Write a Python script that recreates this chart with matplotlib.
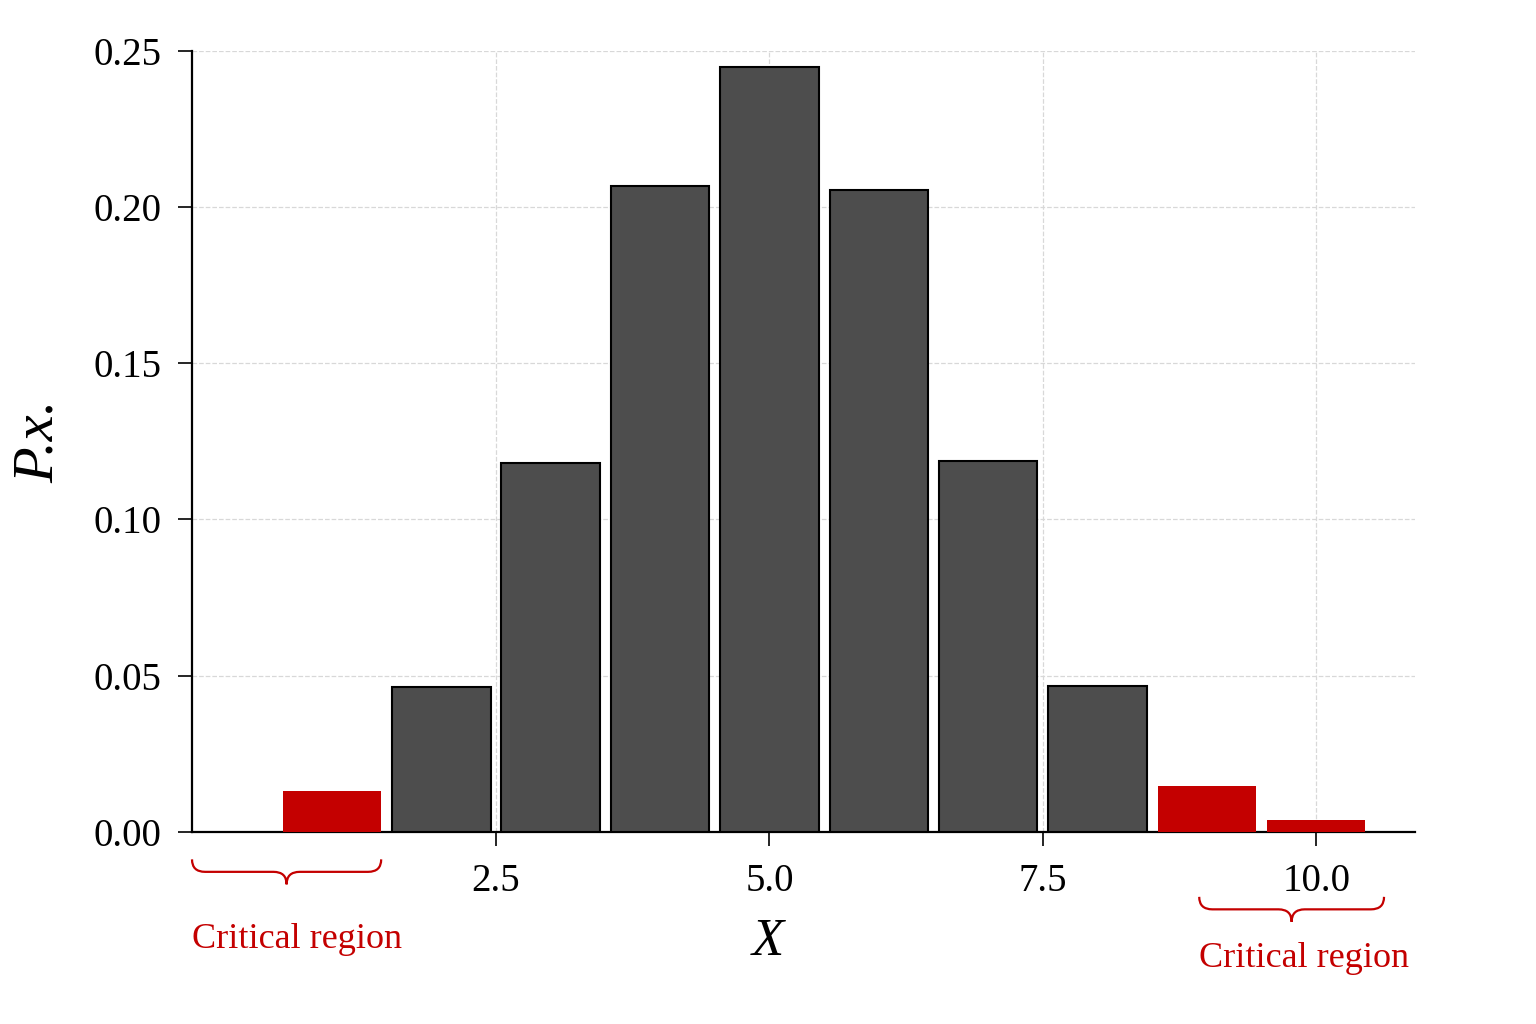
import matplotlib
matplotlib.use("Agg")
import matplotlib.pyplot as plt
from matplotlib.path import Path
from matplotlib.patches import PathPatch
import matplotlib.transforms as mtransforms

# bar heights
x_vals = [1, 2, 3, 4, 5, 6, 7, 8, 9, 10]
probs = [0.0131, 0.0464, 0.1180, 0.2068, 0.2449, 0.2055, 0.1188, 0.0467, 0.0147, 0.0038]
critical = [True, False, False, False, False, False, False, False, True, True]
x_ticks = [2.5, 5.0, 7.5, 10.0]
y_ticks = [0.00, 0.05, 0.10, 0.15, 0.20, 0.25]

DARK = "#4d4d4d"
RED = "#c40000"

plt.rcParams["font.family"] = ["Liberation Serif", "DejaVu Serif"]


def brace(ax, x0, x1, y, h, color):
    """Curly brace below the axis: x in data, y in axes fraction."""
    tr = mtransforms.blended_transform_factory(ax.transData, ax.transAxes)
    xm = (x0 + x1) / 2
    r = 0.12
    verts = [(x0, y), (x0, y - h / 2), (x0 + r, y - h / 2),
             (xm - r, y - h / 2), (xm, y - h / 2), (xm, y - h),
             (xm, y - h / 2), (xm + r, y - h / 2),
             (x1 - r, y - h / 2), (x1, y - h / 2), (x1, y)]
    codes = [Path.MOVETO, Path.CURVE3, Path.CURVE3,
             Path.LINETO, Path.CURVE3, Path.CURVE3,
             Path.CURVE3, Path.CURVE3,
             Path.LINETO, Path.CURVE3, Path.CURVE3]
    ax.add_patch(PathPatch(Path(verts, codes), fc="none", ec=color, lw=1.6,
                           transform=tr, clip_on=False))


fig = plt.figure(figsize=(15.36, 10.24), dpi=100)
ax = fig.add_axes([0.125, 0.1875, 0.796, 0.763])

for xv, p, crit in zip(x_vals, probs, critical):
    if crit:
        ax.bar(xv, p, width=0.9, color=RED, edgecolor="none", zorder=3)
    else:
        ax.bar(xv, p, width=0.9, color=DARK, edgecolor="black", lw=1.5, zorder=3)

ax.set_xlim(-0.28, 10.9)
ax.set_ylim(0, 0.25)
ax.set_xticks(x_ticks)
ax.set_xticklabels([f"{v:.1f}" for v in x_ticks])
ax.set_yticks(y_ticks)
ax.set_yticklabels([f"{v:.2f}" for v in y_ticks])
ax.tick_params(labelsize=28, length=10, width=1.2, pad=12)
ax.grid(True, ls="--", lw=0.9, color="#d8d8d8", zorder=0)
ax.set_axisbelow(True)
ax.spines[["top", "right"]].set_visible(False)
ax.spines[["left", "bottom"]].set_linewidth(1.6)

ax.set_xlabel("X", fontsize=38, fontstyle="italic")
ax.xaxis.set_label_coords(0.471, -0.110)
ax.set_ylabel("P.x.", fontsize=42, fontstyle="italic")
ax.yaxis.set_label_coords(-0.104, 0.5)

# critical-region annotations
brace(ax, -0.28, 1.45, -0.035, 0.032, RED)
ax.text(-0.28, -0.138, "Critical region", color=RED, fontsize=26,
        transform=mtransforms.blended_transform_factory(ax.transData, ax.transAxes),
        ha="left", va="center")
brace(ax, 8.93, 10.62, -0.083, 0.032, RED)
ax.text(8.93, -0.162, "Critical region", color=RED, fontsize=26,
        transform=mtransforms.blended_transform_factory(ax.transData, ax.transAxes),
        ha="left", va="center")

fig.savefig("out.png", dpi=100, facecolor="white")
